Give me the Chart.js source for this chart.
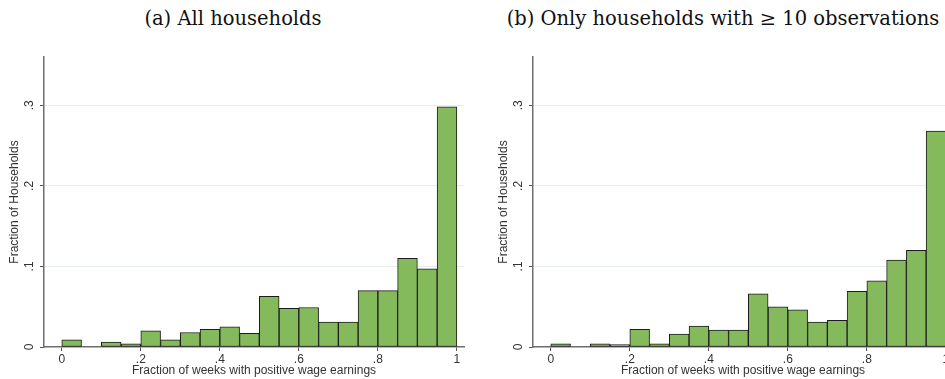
<!DOCTYPE html>
<html>
<head>
<meta charset="utf-8">
<script src="https://cdn.jsdelivr.net/npm/chart.js@4.4.0/dist/chart.umd.min.js"></script>
<style>
  html, body { margin: 0; padding: 0; background: #fff; overflow: hidden; width: 945px; height: 379px; }
  canvas { position: absolute; top: 0; }
  .caption { position: absolute; top: 7px; font-family: "DejaVu Serif", serif; font-size: 19.5px; line-height: 24px; color: #111; white-space: nowrap; text-align: center; }
</style>
</head>
<body>
<div class="caption" style="left:0; width:466px;">(a) All households</div>
<canvas id="chart-a" width="466" height="379" style="left:0"></canvas>
<div class="caption" style="left:489px; width:468px;">(b) Only households with &ge; 10 observations</div>
<canvas id="chart-b" width="468" height="379" style="left:489px"></canvas>
<script>
// 구간(bin) 하한값, 폭 0.05
const binStarts = [0, 0.05, 0.1, 0.15, 0.2, 0.25, 0.3, 0.35, 0.4, 0.45,
                   0.5, 0.55, 0.6, 0.65, 0.7, 0.75, 0.8, 0.85, 0.9, 0.95];
const binWidth = 0.05;

// (a) 전체 가구
const fracAll = [0.009, 0, 0.006, 0.004, 0.020, 0.009, 0.018, 0.022, 0.025, 0.017,
                 0.063, 0.048, 0.049, 0.031, 0.031, 0.070, 0.070, 0.110, 0.097, 0.298];

// (b) 관측치 10개 이상 가구
const fracTenPlus = [0.004, 0, 0.004, 0.003, 0.022, 0.004, 0.016, 0.026, 0.021, 0.021,
                     0.066, 0.050, 0.046, 0.031, 0.033, 0.069, 0.082, 0.108, 0.120, 0.268];

const xTicks = [0, 0.2, 0.4, 0.6, 0.8, 1];
const xTickLabels = ['0', '.2', '.4', '.6', '.8', '1'];
const yTicks = [0, 0.1, 0.2, 0.3];
const yTickLabels = ['0', '.1', '.2', '.3'];

const axisFont = { family: '"Liberation Sans", Arial, sans-serif', size: 12 };

// 세로로 돌린 y축 눈금 라벨
const rotatedYLabels = {
  id: 'rotatedYLabels',
  afterDraw(chart) {
    const ctx = chart.ctx;
    const y = chart.scales.y;
    ctx.save();
    ctx.font = '12px "Liberation Sans", Arial, sans-serif';
    ctx.fillStyle = '#333';
    ctx.textAlign = 'center';
    ctx.textBaseline = 'middle';
    yTicks.forEach((v, i) => {
      ctx.save();
      ctx.translate(30, y.getPixelForValue(v));
      ctx.rotate(-Math.PI / 2);
      ctx.fillText(yTickLabels[i], 0, 0);
      ctx.restore();
    });
    ctx.restore();
  }
};

function makeChart(id, values, rightPad) {
  const points = binStarts.map((b, i) => ({ x: b + binWidth / 2, y: values[i] }));
  return new Chart(document.getElementById(id), {
    type: 'bar',
    data: {
      datasets: [{
        data: points,
        backgroundColor: 'rgb(132,186,91)',
        borderColor: '#1c1c1c',
        borderWidth: 1,
        borderSkipped: false,
        barPercentage: 1,
        categoryPercentage: 1
      }]
    },
    options: {
      responsive: false,
      animation: false,
      devicePixelRatio: 1,
      layout: { padding: { top: 57, right: rightPad, left: 0, bottom: 0 } },
      plugins: { legend: { display: false }, tooltip: { enabled: false } },
      scales: {
        x: {
          type: 'linear',
          offset: false,
          min: -0.045,
          max: 1.018,
          afterBuildTicks: s => { s.ticks = xTicks.map(v => ({ value: v })); },
          afterFit: s => { s.height = 32; },
          ticks: {
            font: axisFont,
            color: '#333',
            padding: 1,
            maxRotation: 0,
            autoSkip: false,
            callback: (v) => xTickLabels[xTicks.indexOf(v)]
          },
          grid: { offset: false, drawOnChartArea: false, drawTicks: true, tickLength: 4, tickColor: '#555' },
          border: { display: true, color: '#6e6e6e', width: 1.5 },
          title: {
            display: true,
            text: 'Fraction of weeks with positive wage earnings',
            font: axisFont,
            color: '#333',
            padding: { top: 0, bottom: 1 }
          }
        },
        y: {
          min: 0,
          max: 0.36,
          afterBuildTicks: s => { s.ticks = yTicks.map(v => ({ value: v })); },
          afterFit: s => { s.width = 44; },
          ticks: { font: axisFont, color: 'rgba(0,0,0,0)' },
          grid: {
            color: c => (c.tick && c.tick.value === 0) ? 'rgba(0,0,0,0)' : '#e6eef0',
            lineWidth: 1,
            tickLength: 4,
            tickColor: '#555'
          },
          border: { display: true, color: '#6e6e6e', width: 1.5 },
          title: {
            display: true,
            text: 'Fraction of Households',
            font: axisFont,
            color: '#333',
            padding: { top: 7, bottom: 0 }
          }
        }
      }
    },
    plugins: [rotatedYLabels]
  });
}

makeChart('chart-a', fracAll, 2);
makeChart('chart-b', fracTenPlus, 4);
</script>
</body>
</html>
